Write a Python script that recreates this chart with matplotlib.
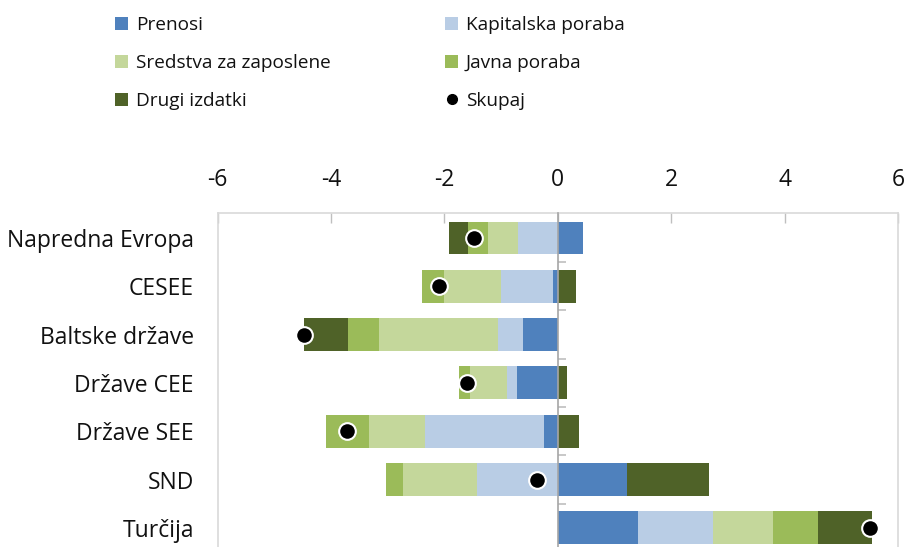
import numpy as np
import matplotlib
matplotlib.use("Agg")
import matplotlib.pyplot as plt
from matplotlib.patches import Patch
from matplotlib.lines import Line2D

plt.rcParams['font.family'] = ['Open Sans', 'DejaVu Sans']

categories = ["Napredna Evropa", "CESEE", "Baltske države", "Države CEE",
              "Države SEE", "SND", "Turčija"]
series_names = ["Prenosi", "Kapitalska poraba", "Sredstva za zaposlene",
                "Javna poraba", "Drugi izdatki"]
prenosi = [0.45, -0.09, -0.61, -0.72, -0.24, 1.22, 1.42]
kapitalska = [-0.70, -0.91, -0.45, -0.18, -2.10, -1.43, 1.32]
sredstva = [-0.53, -1.01, -2.09, -0.64, -0.98, -1.30, 1.05]
javna = [-0.36, -0.39, -0.55, -0.21, -0.77, -0.29, 0.80]
drugi = [-0.32, 0.33, -0.77, 0.17, 0.37, 1.45, 0.95]
skupaj = [-1.48, -2.10, -4.48, -1.60, -3.72, -0.37, 5.50]
xticks = [-6, -4, -2, 0, 2, 4, 6]

colors = ["#4F81BD", "#B9CDE5", "#C4D79B", "#9BBB59", "#4F6228"]
series = [prenosi, kapitalska, sredstva, javna, drugi]

fig = plt.figure(figsize=(9.06, 5.47), dpi=100)
ax = fig.add_axes([217.5 / 906, 1 - 552 / 547, (898 - 217.5) / 906, (552 - 212.7) / 547])

y = np.arange(len(categories))
pos_cum = np.zeros(len(categories))
neg_cum = np.zeros(len(categories))
for vals, col in zip(series, colors):
    v = np.array(vals)
    left = np.where(v >= 0, pos_cum, neg_cum)
    ax.barh(y, v, left=left, height=0.68, color=col, edgecolor='none', zorder=2)
    pos_cum = pos_cum + np.where(v >= 0, v, 0)
    neg_cum = neg_cum + np.where(v < 0, v, 0)

ax.plot(skupaj, y, linestyle='none', marker='o', markersize=12,
        markerfacecolor='black', markeredgecolor='white', markeredgewidth=1.5, zorder=6)

ax.set_xlim(-6, 6)
ax.set_ylim(6.5, -0.523)
ax.xaxis.tick_top()
ax.set_xticks(xticks)
ax.set_xticklabels([str(t) for t in xticks])
ax.tick_params(axis='x', direction='in', length=7.2, width=1, color='#BFBFBF',
               labelsize=16.5, pad=15, labelcolor='#111111')
ax.set_yticks(y)
ax.set_yticklabels(categories)
ax.tick_params(axis='y', length=0, labelsize=16.5, pad=17, labelcolor='#111111')

for s in ['top', 'left', 'right']:
    ax.spines[s].set_color('#D9D9D9')
    ax.spines[s].set_linewidth(1.2)
ax.spines['bottom'].set_visible(False)

sec = ax.secondary_yaxis(0.5)
sec.set_yticks(np.arange(0.5, len(categories) - 0.5, 1.0))
sec.set_yticklabels([])
sec.yaxis.set_tick_params(which='both', direction='in', length=6, width=1.2,
                          color='#BFBFBF', left=True, right=False)
for sp in sec.spines.values():
    sp.set_edgecolor('#A6A6A6')
    sp.set_linewidth(1.2)
sec.set_zorder(4)

handles = [Patch(facecolor=colors[0]), Patch(facecolor=colors[2]), Patch(facecolor=colors[4]),
           Patch(facecolor=colors[1]), Patch(facecolor=colors[3]),
           Line2D([], [], linestyle='none', marker='o', markersize=7, color='black')]
labels = [series_names[0], series_names[2], series_names[4],
          series_names[1], series_names[3], "Skupaj"]
leg = fig.legend(handles, labels, ncol=2, loc='upper left',
                 bbox_to_anchor=(98 / 906, 1 + 1 / 547), frameon=False,
                 fontsize=13.7, handlelength=0.7, handleheight=0.7, handletextpad=0.4,
                 labelspacing=1.05, columnspacing=6.0)
for t in leg.get_texts():
    t.set_color('#111111')

fig.savefig("out.png", dpi=100)
